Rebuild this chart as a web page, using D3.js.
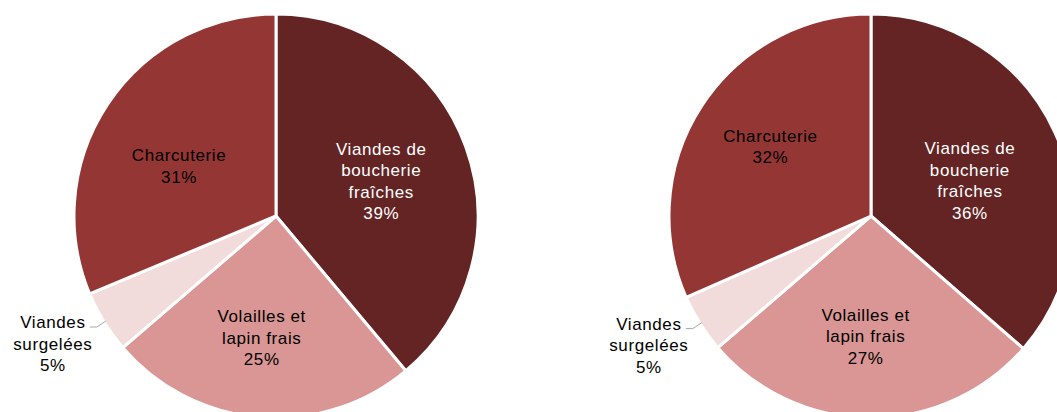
<!DOCTYPE html>
<html>
<head>
<meta charset="utf-8">
<script src="https://cdn.jsdelivr.net/npm/d3@7"></script>
<style>
  html, body { margin: 0; padding: 0; background: #ffffff; }
  svg { display: block; }
  text { font-family: "Liberation Sans", Arial, sans-serif; }
</style>
</head>
<body>
<svg id="chart" width="1057" height="412"></svg>
<script>
// ---- Data ----
const categories = ["Viandes de boucherie fraîches", "Volailles et lapin frais", "Viandes surgelées", "Charcuterie"];
const labelLines = [["Viandes de", "boucherie", "fraîches"], ["Volailles  et", "lapin frais"], ["Viandes", "surgelées"], ["Charcuterie"]];
const valuesLeft = [38.9, 24.8, 5.0, 31.3];
const valuesRight = [36.4, 27.3, 4.7, 31.6];

// ---- Style / layout ----
const sliceColors = ["#632423", "#D99694", "#F2DCDB", "#943634"];
const textColors = ["#ffffff", "#000000", "#000000", "#000000"];
const outsideLabel = [false, false, true, false];
// small best-fit adjustments of inside labels (px), per pie, per slice
const labelNudgeLeft = [[-2, 4], [-5, 8], [0, 0], [-2, 13]];
const labelNudgeRight = [[-5, 12], [-5, 6], [0, 0], [-5, -7]];

const svg = d3.select("#chart");
const R = 202;
const pies = [
  { values: valuesLeft, cx: 276, cy: 216, nudge: labelNudgeLeft },
  { values: valuesRight, cx: 871, cy: 216, nudge: labelNudgeRight }
];
const fontSize = 17, lineH = 21.5, capH = 12;
const fmt = v => d3.format(".0f")(v) + "%";

const pieGen = d3.pie().sort(null).value(d => d.value).startAngle(0).endAngle(2 * Math.PI);
const arcGen = d3.arc().innerRadius(0).outerRadius(R);
const labelArc = d3.arc().innerRadius(R * 0.565).outerRadius(R * 0.565);

pies.forEach(p => {
  const data = categories.map((c, i) => ({ cat: c, i, value: p.values[i] }));
  const arcs = pieGen(data);
  const g = svg.append("g").attr("transform", `translate(${p.cx},${p.cy})`);

  g.selectAll("path.slice").data(arcs).join("path")
    .attr("class", "slice")
    .attr("d", arcGen)
    .attr("fill", d => sliceColors[d.data.i])
    .attr("stroke", "#ffffff")
    .attr("stroke-width", 3)
    .attr("stroke-linejoin", "round");

  arcs.forEach(a => {
    const i = a.data.i;
    const lines = labelLines[i].concat([fmt(a.data.value)]);
    if (!outsideLabel[i]) {
      const c = labelArc.centroid(a);
      const x = c[0] + p.nudge[i][0];
      const y = c[1] + p.nudge[i][1];
      const firstBase = y - (lines.length - 1) * lineH / 2 + capH / 2;
      const t = g.append("text")
        .attr("text-anchor", "middle")
        .attr("font-size", fontSize)
        .attr("letter-spacing", "0.6px")
        .attr("fill", textColors[i]);
      lines.forEach((ln, k) => {
        t.append("tspan").attr("x", x).attr("y", firstBase + k * lineH).text(ln);
      });
    } else {
      const mid = (a.startAngle + a.endAngle) / 2;
      const x0 = Math.sin(mid) * R * 0.99, y0 = -Math.cos(mid) * R * 0.99;
      const x1 = x0 - 9, y1 = y0 + 6;
      const x2 = x1 - 7, y2 = y1;
      g.append("polyline")
        .attr("points", `${x0},${y0} ${x1},${y1} ${x2},${y2}`)
        .attr("fill", "none")
        .attr("stroke", "#a6a6a6")
        .attr("stroke-width", 1);
      const tx = x2 - 37;
      const t = g.append("text")
        .attr("text-anchor", "middle")
        .attr("font-size", fontSize)
        .attr("letter-spacing", "0.6px")
        .attr("fill", textColors[i]);
      lines.forEach((ln, k) => {
        t.append("tspan").attr("x", tx).attr("y", y2 + 1 + k * lineH).text(ln);
      });
    }
  });
});
</script>
</body>
</html>
